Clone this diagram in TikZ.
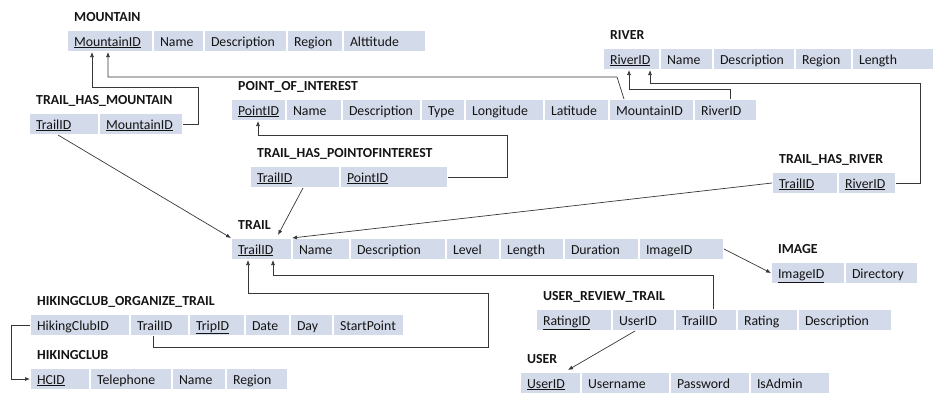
\documentclass[tikz,border=0pt]{standalone}
\usepackage{fontspec}
\setmainfont{Carlito}
\usetikzlibrary{positioning,arrows.meta}
\definecolor{cellblue}{RGB}{211,218,234}
\definecolor{linegray}{RGB}{55,55,55}
\definecolor{txt}{RGB}{20,20,20}
\hyphenpenalty=10000
\begin{document}
\begin{tikzpicture}[x=1pt,y=-1pt,
    C/.style={fill=cellblue, draw=white, line width=1.2pt, anchor=north west,
      outer sep=0pt, minimum height=22pt, inner xsep=7pt, inner ysep=0pt,
      text width=#1-14pt, align=left, text height=12.5pt, text depth=2.5pt,
      font=\fontsize{13.8}{16}\selectfont, text=txt},
    T/.style={anchor=base west, inner sep=0pt,
      font=\fontsize{13.8}{16}\selectfont\bfseries, text=txt},
    A/.style={draw=linegray, line width=0.7pt,
      -{Latex[length=5pt,width=4pt]}}]
    \useasboundingbox (0,0) rectangle (947,407);

    \node[C=86] (mtId) at (67,30) {\underline{MountainID}};
    \node[C=51, right=0pt of mtId] (mtName) {Name};
    \node[C=83, right=0pt of mtName] (mtDesc) {Description};
    \node[C=56, right=0pt of mtDesc] (mtRegion) {Region};
    \node[C=83, right=0pt of mtRegion] (mtAlt) {Alttitude};
    \node[T] (mountain) at ([xshift=7pt,yshift=9pt]mtId.north west) {MOUNTAIN};

    \node[C=57] (rvId) at (603,48) {\underline{RiverID}};
    \node[C=53, right=0pt of rvId] (rvName) {Name};
    \node[C=82, right=0pt of rvName] (rvDesc) {Description};
    \node[C=57, right=0pt of rvDesc] (rvRegion) {Region};
    \node[C=82, right=0pt of rvRegion] (rvLength) {Length};
    \node[T] (river) at ([xshift=7pt,yshift=9pt]rvId.north west) {RIVER};

    \node[C=55] (poiId) at (231,99) {\underline{PointID}};
    \node[C=56, right=0pt of poiId] (poiName) {Name};
    \node[C=79, right=0pt of poiName] (poiDesc) {Description};
    \node[C=44, right=0pt of poiDesc] (poiType) {Type};
    \node[C=79, right=0pt of poiType] (poiLon) {Longitude};
    \node[C=65, right=0pt of poiLon] (poiLat) {Latitude};
    \node[C=85, right=0pt of poiLat] (poiMt) {MountainID};
    \node[C=63, right=0pt of poiMt] (poiRv) {RiverID};
    \node[T] (poi) at ([xshift=7pt,yshift=9pt]poiId.north west) {POINT\_OF\_INTEREST};

    \node[C=70] (thmTrail) at (29,113) {\underline{TrailID}};
    \node[C=84, right=0pt of thmTrail] (thmMt) {\underline{MountainID}};
    \node[T] (thm) at ([xshift=7pt,yshift=9pt]thmTrail.north west) {TRAIL\_HAS\_MOUNTAIN};

    \node[C=90] (thpTrail) at (250,166) {\underline{TrailID}};
    \node[C=108, right=0pt of thpTrail] (thpPoint) {\underline{PointID}};
    \node[T] (thp) at ([xshift=7pt,yshift=9pt]thpTrail.north west) {TRAIL\_HAS\_POINTOFINTEREST};

    \node[C=61] (trId) at (231,238) {\underline{TrailID}};
    \node[C=58, right=0pt of trId] (trName) {Name};
    \node[C=96, right=0pt of trName] (trDesc) {Description};
    \node[C=54, right=0pt of trDesc] (trLevel) {Level};
    \node[C=64, right=0pt of trLevel] (trLength) {Length};
    \node[C=75, right=0pt of trLength] (trDur) {Duration};
    \node[C=85, right=0pt of trDur] (trImg) {ImageID};
    \node[T] (trail) at ([xshift=7pt,yshift=9pt]trId.north west) {TRAIL};

    \node[C=66] (thrTrail) at (772,172) {\underline{TrailID}};
    \node[C=58, right=0pt of thrTrail] (thrRiver) {\underline{RiverID}};
    \node[T] (thr) at ([xshift=7pt,yshift=9pt]thrTrail.north west) {TRAIL\_HAS\_RIVER};

    \node[C=74] (imId) at (771,262) {\underline{ImageID}};
    \node[C=73, right=0pt of imId] (imDir) {Directory};
    \node[T] (image) at ([xshift=7pt,yshift=9pt]imId.north west) {IMAGE};

    \node[C=100] (hotClub) at (30,314) {HikingClubID};
    \node[C=59, right=0pt of hotClub] (hotTrail) {TrailID};
    \node[C=56, right=0pt of hotTrail] (hotTrip) {\underline{TripID}};
    \node[C=45, right=0pt of hotTrip] (hotDate) {Date};
    \node[C=43, right=0pt of hotDate] (hotDay) {Day};
    \node[C=71, right=0pt of hotDay] (hotStart) {StartPoint};
    \node[T] (hot) at ([xshift=7pt,yshift=9pt]hotClub.north west) {HIKINGCLUB\_ORGANIZE\_TRAIL};

    \node[C=60] (hcId) at (30,368) {\underline{HCID}};
    \node[C=82, right=0pt of hcId] (hcTel) {Telephone};
    \node[C=54, right=0pt of hcTel] (hcName) {Name};
    \node[C=62, right=0pt of hcName] (hcRegion) {Region};
    \node[T] (hc) at ([xshift=7pt,yshift=9pt]hcId.north west) {HIKINGCLUB};

    \node[C=76] (urtId) at (536,309) {\underline{RatingID}};
    \node[C=63, right=0pt of urtId] (urtUser) {UserID};
    \node[C=62, right=0pt of urtUser] (urtTrail) {TrailID};
    \node[C=61, right=0pt of urtTrail] (urtRating) {Rating};
    \node[C=94, right=0pt of urtRating] (urtDesc) {Description};
    \node[T] (urt) at ([xshift=7pt,yshift=9pt]urtId.north west) {USER\_REVIEW\_TRAIL};

    \node[C=61] (usId) at (520,372) {\underline{UserID}};
    \node[C=89, right=0pt of usId] (usName) {Username};
    \node[C=80, right=0pt of usName] (usPass) {Password};
    \node[C=80, right=0pt of usPass] (usAdmin) {IsAdmin};
    \node[T] (user) at ([xshift=7pt,yshift=9pt]usId.north west) {USER};

    \draw[A] (thmMt.east) -- ++(15,0) |- ([xshift=25pt,yshift=-35pt]mtId.south west)
        -- ([xshift=25pt]mtId.south west);
    \draw[A] ([xshift=15pt]poiMt.north west) -- ([xshift=8pt,yshift=22pt]poiMt.north west)
        -| ([xshift=41pt]mtId.south west);
    \draw[A] ([xshift=36pt]poiRv.north west) -- ++(0,-10) -| ([xshift=26pt]rvId.south west);
    \draw[A] (thrRiver.east) -- ++(24,0) |- ([xshift=47pt,yshift=-13pt]rvId.south west)
        -- ([xshift=47pt]rvId.south west);
    \draw[A] (thpPoint.east) -- ++(59,0) |- ([xshift=27pt,yshift=-14pt]poiId.south west)
        -- ([xshift=27pt]poiId.south west);
    \draw[A] ([xshift=29pt]thmTrail.south west) -- (trId.north west);
    \draw[A] ([xshift=53pt]thpTrail.south west) -- ([xshift=47pt,yshift=3pt]trId.north west);
    \draw[A] (thrTrail.west) -- (trId.north east);
    \draw[A] (trImg.east) -- (imId.west);
    \draw[A] ([xshift=38pt]urtTrail.north west) |- ([xshift=42pt,yshift=-15pt]trId.south west)
        -- ([xshift=42pt]trId.south west);
    \draw[A] ([xshift=23pt]hotTrail.south west) -- ++(0,11)
        -| ([xshift=257pt,yshift=-33pt]trId.south west)
        -| ([xshift=17pt]trId.south west);
    \draw[A] ([xshift=23pt]urtUser.south west) -- ([xshift=48pt,yshift=2pt]usId.north west);
    \draw[A] (hotClub.west) -- ++(-19,0) |- (hcId.west);
\end{tikzpicture}
\end{document}
